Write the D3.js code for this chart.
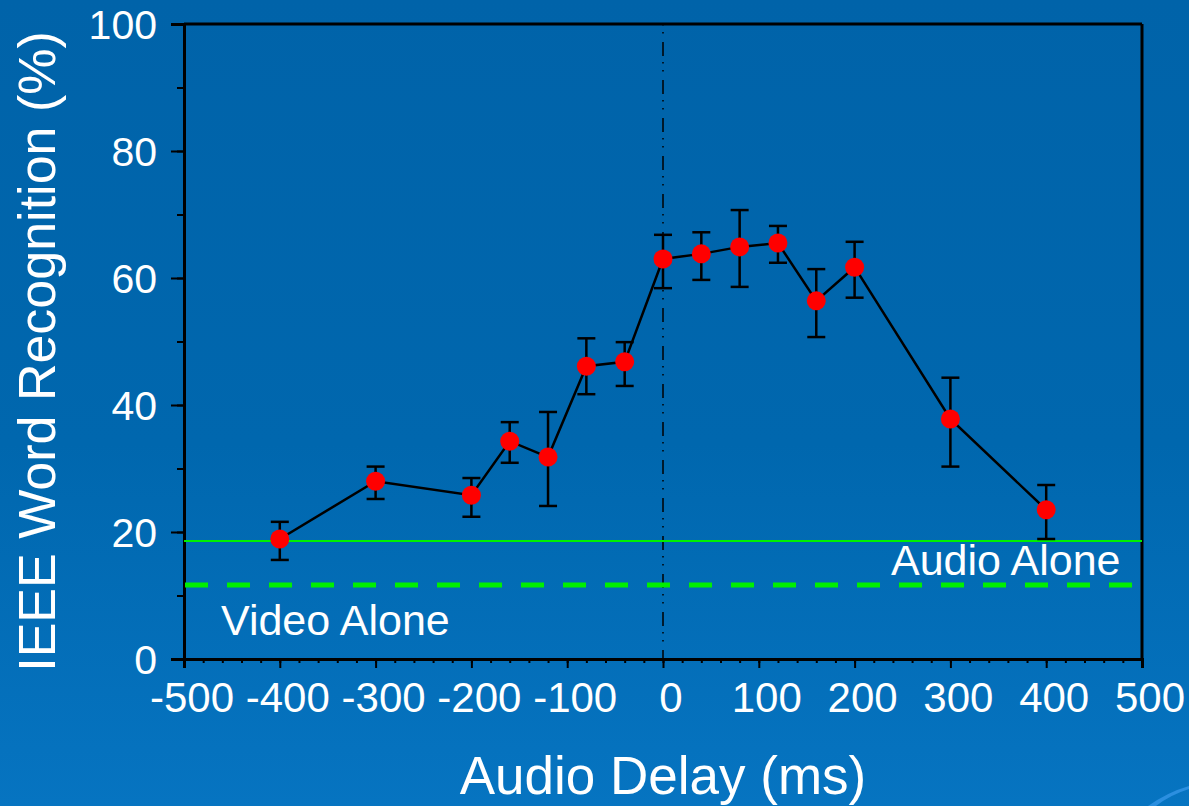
<!DOCTYPE html>
<html>
<head>
<meta charset="utf-8">
<script src="https://cdn.jsdelivr.net/npm/d3@7"></script>
<style>
  html, body { margin: 0; padding: 0; overflow: hidden; }
  body { width: 1189px; height: 806px; }
  text { font-family: "Liberation Sans", Arial, sans-serif; fill: #ffffff; }
</style>
</head>
<body>
<svg id="chart" width="1189" height="806"></svg>
<script>
// ---- data ----
const delays = [-400, -300, -200, -160, -120, -80, -40, 0, 40, 80, 120, 160, 200, 300, 400];
const means  = [18.9, 28.0, 25.8, 34.3, 31.8, 46.1, 46.8, 63.0, 63.8, 64.9, 65.5, 56.4, 61.7, 37.8, 23.5];
const upper  = [21.6, 30.3, 28.5, 37.3, 38.9, 50.5, 49.9, 66.8, 67.2, 70.7, 68.2, 61.4, 65.7, 44.3, 27.4];
const lower  = [15.6, 25.2, 22.4, 30.9, 24.1, 41.7, 43.0, 58.4, 59.7, 58.6, 62.4, 50.7, 56.9, 30.3, 18.9];
const xTicks = [-500, -400, -300, -200, -100, 0, 100, 200, 300, 400, 500];
const yTicks = [0, 20, 40, 60, 80, 100];
const audioAlone = 18.6;
const videoAlone = 11.65;
const labels = { audio: "Audio Alone", video: "Video Alone" };
const xTitle = "Audio Delay (ms)";
const yTitle = "IEEE Word Recognition (%)";

// ---- layout ----
const W = 1189, H = 806;
const L = 184, R = 1142, T = 24, B = 659;
const svg = d3.select("#chart");

const defs = svg.append("defs");
const grad = defs.append("linearGradient").attr("id", "bg").attr("x1", 0).attr("y1", 0).attr("x2", 0).attr("y2", 1);
grad.append("stop").attr("offset", "0%").attr("stop-color", "#0063a9");
grad.append("stop").attr("offset", "55%").attr("stop-color", "#0067ae");
grad.append("stop").attr("offset", "100%").attr("stop-color", "#0674c1");
svg.append("rect").attr("width", W).attr("height", H).attr("fill", "url(#bg)");
// decorative swoosh bottom-right
svg.append("path")
  .attr("d", "M1148,806 Q1168,792 1189,786 L1189,789 Q1170,795 1156,806 Z")
  .attr("fill", "#2b8fe0");

const x = d3.scaleLinear().domain([-500, 500]).range([L, R]);
const y = d3.scaleLinear().domain([0, 100]).range([B, T]);

// frame top & right
svg.append("line").attr("x1", L).attr("x2", R).attr("y1", T).attr("y2", T).attr("stroke", "#000").attr("stroke-width", 3);
svg.append("line").attr("x1", R).attr("x2", R).attr("y1", T).attr("y2", B).attr("stroke", "#000").attr("stroke-width", 3);

// x axis
const xAxis = svg.append("g").attr("transform", `translate(0,${B})`);
xAxis.call(d3.axisBottom(x).tickValues(d3.range(-500, 501, 20)).tickSize(4).tickFormat(""));
xAxis.append("g").call(d3.axisBottom(x).tickValues(xTicks).tickSize(9).tickFormat(""));
xAxis.selectAll("path.domain").attr("stroke", "#000").attr("stroke-width", 3);
xAxis.selectAll(".tick line").attr("stroke", "#000").attr("stroke-width", 2);
svg.append("g").selectAll("text").data(xTicks).join("text")
  .attr("x", d => x(d) + 8).attr("y", 712)
  .attr("text-anchor", "middle").attr("font-size", 42)
  .text(d => d);

// y axis
const yAxis = svg.append("g").attr("transform", `translate(${L},0)`);
yAxis.call(d3.axisLeft(y).tickValues(d3.range(0, 101, 10)).tickSize(7).tickFormat(""));
yAxis.append("g").call(d3.axisLeft(y).tickValues(yTicks).tickSize(13).tickFormat(""));
yAxis.selectAll("path.domain").attr("stroke", "#000").attr("stroke-width", 3);
yAxis.selectAll(".tick line").attr("stroke", "#000").attr("stroke-width", 2);
svg.append("g").selectAll("text").data(yTicks).join("text")
  .attr("x", 157).attr("y", d => y(d)).attr("dy", "0.36em")
  .attr("text-anchor", "end").attr("font-size", 41)
  .text(d => d);

// titles
svg.append("text").attr("x", x(0)).attr("y", 794).attr("text-anchor", "middle")
  .attr("font-size", 53).text(xTitle);
svg.append("text").attr("transform", `translate(55,${(T + B) / 2 + 10}) rotate(-90)`)
  .attr("text-anchor", "middle").attr("font-size", 52).text(yTitle);

// reference lines
svg.append("line").attr("x1", x(0)).attr("x2", x(0)).attr("y1", T).attr("y2", B)
  .attr("stroke", "#000").attr("stroke-width", 1.5).attr("stroke-dasharray", "1.5,6.5,1.5,8.5,14,6");
svg.append("line").attr("x1", L).attr("x2", R).attr("y1", y(audioAlone)).attr("y2", y(audioAlone))
  .attr("stroke", "#00f000").attr("stroke-width", 2);
svg.append("line").attr("x1", L + 1).attr("x2", 1133).attr("y1", y(videoAlone)).attr("y2", y(videoAlone))
  .attr("stroke", "#00f000").attr("stroke-width", 5).attr("stroke-dasharray", "23,19");

svg.append("text").attr("x", 891).attr("y", y(audioAlone) + 34).attr("font-size", 43).text(labels.audio);
svg.append("text").attr("x", 221).attr("y", y(videoAlone) + 50).attr("font-size", 43).text(labels.video);

// data
const pts = delays.map((d, i) => ({ d, m: means[i], hi: upper[i], lo: lower[i] }));
svg.append("path").datum(pts)
  .attr("d", d3.line().x(p => x(p.d)).y(p => y(p.m)))
  .attr("fill", "none").attr("stroke", "#000").attr("stroke-width", 2.5);

const eb = svg.append("g").attr("stroke", "#000").attr("stroke-width", 2.5);
eb.selectAll("line.v").data(pts).join("line").attr("class", "v")
  .attr("x1", p => x(p.d)).attr("x2", p => x(p.d)).attr("y1", p => y(p.hi)).attr("y2", p => y(p.lo));
eb.selectAll("line.t").data(pts).join("line").attr("class", "t")
  .attr("x1", p => x(p.d) - 9).attr("x2", p => x(p.d) + 9).attr("y1", p => y(p.hi)).attr("y2", p => y(p.hi));
eb.selectAll("line.b").data(pts).join("line").attr("class", "b")
  .attr("x1", p => x(p.d) - 9).attr("x2", p => x(p.d) + 9).attr("y1", p => y(p.lo)).attr("y2", p => y(p.lo));

svg.append("g").selectAll("circle").data(pts).join("circle")
  .attr("cx", p => x(p.d)).attr("cy", p => y(p.m)).attr("r", 9.5).attr("fill", "#ff0000");
</script>
</body>
</html>
